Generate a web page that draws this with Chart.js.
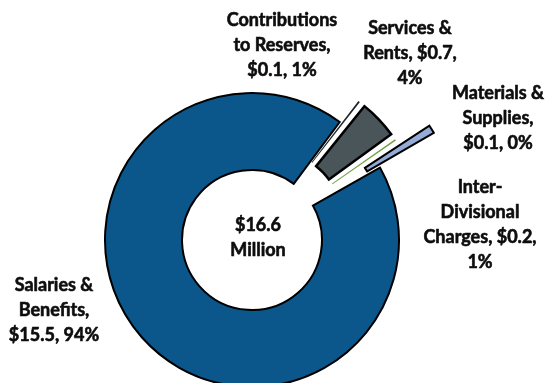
<!DOCTYPE html>
<html>
<head>
<meta charset="utf-8">
<script src="https://cdn.jsdelivr.net/npm/chart.js@4.4.1/dist/chart.umd.min.js"></script>
<style>
  html, body { margin: 0; padding: 0; background: #fff; }
  #wrap { width: 549px; height: 383px; position: relative; }
</style>
</head>
<body>
<div id="wrap"><canvas id="chart"></canvas></div>
<script>
// Expense breakdown, $ millions. Slices run clockwise from Salaries.
const categories = [
    'Salaries & Benefits',
    'Contributions to Reserves',
    'Services & Rents',
    'Materials & Supplies',
    'Inter-Divisional Charges',
];
const amounts = [15.5, 0.1, 0.7, 0.1, 0.2];
const percents = [94, 1, 4, 0, 1];

const money = (v) => `$${v.toFixed(1)}`;
const tail = (i) => `${money(amounts[i])}, ${percents[i]}%`;

// wrapped label text, one array of lines per slice
const labelLines = [
    ['Salaries &', 'Benefits,', tail(0)],
    ['Contributions', 'to Reserves,', tail(1)],
    ['Services &', `Rents, ${money(amounts[2])},`, `${percents[2]}%`],
    ['Materials &', 'Supplies,', tail(3)],
    ['Inter-', 'Divisional', `Charges, ${money(amounts[4])},`, `${percents[4]}%`],
];

// ---- styling ----

const COLOURS = ['#0B578C', '#1E2426', '#4A5559', '#70A048', '#95ABD7'];
const BORDERS = [2, 0, 2.5, 0, 2];
// Chart.js arc offset (pulls the slice out and trims it thinner)
const OFFSETS = [0, 57, 0, 57, 50];
// extra straight pull-out in px along each slice's bisector
const EXPLODE = [0, 0, 28, 0, 40];
const FONT_SIZE = 18;
const FONT = `700 ${FONT_SIZE}px Lato, "Open Sans", sans-serif`;
const LINE_H = 25;
// label block anchors (centre x, first line y)
const LABEL_POS = [[54, 285], [282, 20], [410, 27.5], [498, 92.5], [480, 187]];

function drawLines(ctx, lines, x, y) {
    lines.forEach((line, i) => {
        const by = y + i * LINE_H + FONT_SIZE * 0.36;
        ctx.strokeText(line, x, by);
        ctx.fillText(line, x, by);
    });
}

// Moves each arc's centre out along its bisector without reshaping it.
const explodePlugin = {
    id: 'explode',
    afterDatasetUpdate(chart, args) {
        args.meta.data.forEach((arc, i) => {
            const d = EXPLODE[i] || 0;
            if (!d) {
                return;
            }
            const mid = (arc.startAngle + arc.endAngle) / 2;
            arc.x += Math.cos(mid) * d;
            arc.y += Math.sin(mid) * d;
        });
    },
};

const labelPlugin = {
    id: 'sliceLabels',
    afterDatasetsDraw(chart) {
        const ctx = chart.ctx;
        const centre = chart.getDatasetMeta(0).data[0];
        const total = amounts.reduce((a, b) => a + b, 0);
        ctx.save();
        ctx.font = FONT;
        ctx.fillStyle = '#0d0d0d';
        ctx.strokeStyle = '#0d0d0d';
        ctx.lineWidth = 0.6;
        ctx.lineJoin = 'round';
        ctx.textAlign = 'center';
        ctx.textBaseline = 'alphabetic';
        labelLines.forEach((lines, i) => {
            drawLines(ctx, lines, LABEL_POS[i][0], LABEL_POS[i][1]);
        });
        drawLines(ctx, [money(total), 'Million'], centre.x + 6, centre.y - 15);
        ctx.restore();
    },
};

new Chart(document.getElementById('chart'), {
    type: 'doughnut',
    data: {
        labels: categories,
        datasets: [{
            data: amounts,
            backgroundColor: COLOURS,
            borderColor: '#000',
            borderWidth: BORDERS,
            borderJoinStyle: 'miter',
            offset: OFFSETS,
            hoverOffset: 0,
            radius: 147,
            cutout: '47.6%',
            rotation: 60.5,
            clip: false,
        }],
    },
    options: {
        responsive: true,
        maintainAspectRatio: false,
        animation: false,
        layout: { padding: { left: 0, right: 45, top: 97, bottom: 0 } },
        plugins: {
            legend: { display: false },
            tooltip: { enabled: false },
        },
    },
    plugins: [explodePlugin, labelPlugin],
});
</script>
</body>
</html>
